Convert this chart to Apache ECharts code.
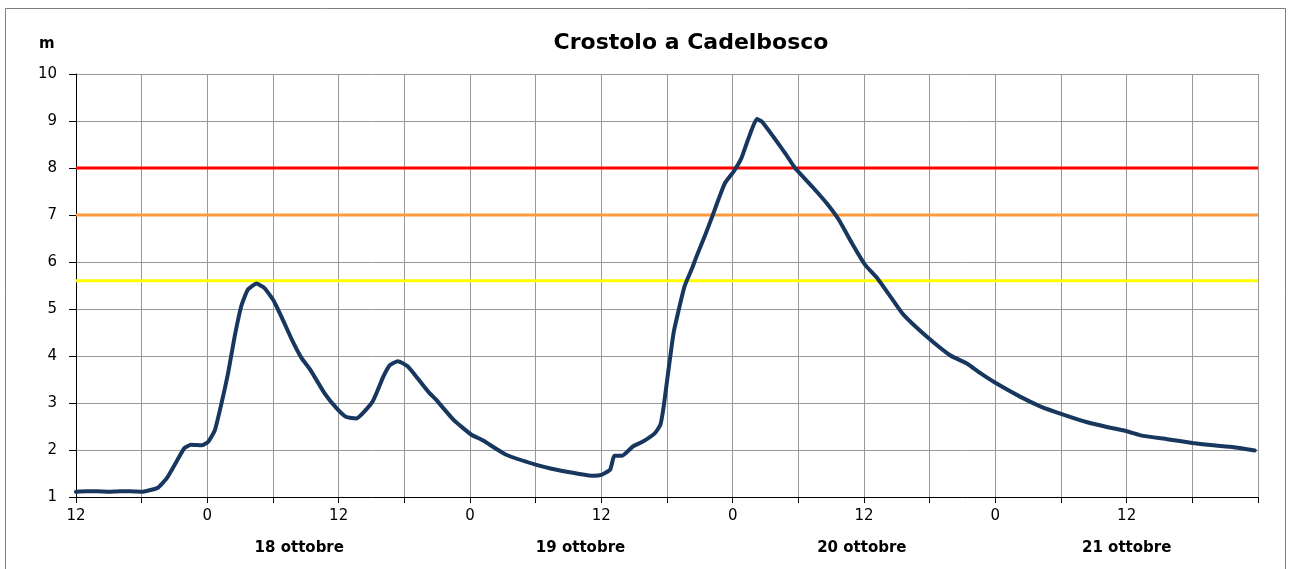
<!DOCTYPE html>
<html>
<head>
<meta charset="utf-8">
<title>Crostolo a Cadelbosco</title>
<script src="https://cdn.jsdelivr.net/npm/echarts@6/dist/echarts.min.js"></script>
<style>
  html, body { margin: 0; padding: 0; background: #fff; }
  #chart { width: 1290px; height: 569px; }
</style>
</head>
<body>
<div id="chart"></div>
<script>
// ore dall'inizio (17 ottobre ore 12)
const hours = [
  0, 1, 2, 3, 4, 5, 6, 7, 7.5, 8.3, 9.2, 9.9, 10.5, 11.5, 12.1, 12.7, 13.3, 13.9,
  14.5, 15.1, 15.7, 16.5, 17.2, 18, 18.9, 19.8, 20.6, 21.4, 22.7, 23.8, 24.7, 25.6,
  27.1, 28.1, 28.7, 29.4, 30.3, 31.3, 32.3, 32.9, 34.5, 36.1, 37.2, 39.3, 42, 43.9,
  46, 47.3, 48, 48.8, 49.2, 49.9, 50.9, 51.8, 52.9, 53.4, 53.7, 54.1, 54.6, 55,
  55.6, 56.3, 56.7, 57.5, 58.2, 58.7, 59.3, 60.1, 60.8, 61.4, 62.2, 62.65, 63.7,
  64.9, 65.7, 67.4, 68.7, 69.7, 70.9, 72.1, 73.2, 74.4, 75.6, 77.7, 79.9, 81.4,
  82.6, 84, 86.3, 88.1, 90, 92.4, 94.2, 96, 97.5, 99.7, 102, 103.9, 105.8, 107.7
];
// livello idrometrico (m)
const levels = [
  1.11, 1.12, 1.12, 1.11, 1.12, 1.12, 1.11, 1.16, 1.2, 1.4, 1.76, 2.04, 2.11, 2.1, 2.18, 2.43, 3.0, 3.64,
  4.42, 5.06, 5.41, 5.54, 5.45, 5.2, 4.77, 4.31, 3.96, 3.71, 3.21, 2.89, 2.7, 2.67,
  3.03, 3.57, 3.81, 3.89, 3.78, 3.5, 3.21, 3.07, 2.64, 2.33, 2.2, 1.9, 1.69, 1.58,
  1.49, 1.45, 1.47, 1.58, 1.88, 1.88, 2.08, 2.18, 2.36, 2.54, 2.93, 3.64, 4.49, 4.91,
  5.48, 5.87, 6.12, 6.58, 7.01, 7.33, 7.68, 7.93, 8.21, 8.6, 9.04, 8.99, 8.67,
  8.28, 8.0, 7.57, 7.22, 6.9, 6.4, 5.94, 5.66, 5.27, 4.88, 4.42, 4.01, 3.84,
  3.64, 3.43, 3.13, 2.93, 2.77, 2.59, 2.49, 2.4, 2.3, 2.23, 2.15, 2.1, 2.06, 1.99
];

// soglie
const thresholdLevels = [8, 7, 5.6];
const thresholdColors = ['#ff0000', '#ff9a3c', '#ffff00'];

const hourTicks = [0, 12, 24, 36, 48, 60, 72, 84, 96];
const hourTickLabels = ['12', '0', '12', '0', '12', '0', '12', '0', '12'];
const dateLabelHours = [20.4, 46.1, 71.8, 96];
const dateLabels = ['18 ottobre', '19 ottobre', '20 ottobre', '21 ottobre'];

const X_MIN = 0;
const X_MAX = 108;
const FONT = '"DejaVu Sans", "Liberation Sans", sans-serif';

const chart = echarts.init(document.getElementById('chart'), null, { renderer: 'canvas' });

const levelData = hours.map((h, i) => [h, levels[i]]);

const thresholdSeries = thresholdLevels.map((lv, i) => ({
  type: 'line',
  data: [[X_MIN, lv], [X_MAX, lv]],
  symbol: 'none',
  silent: true,
  lineStyle: { color: thresholdColors[i], width: 3 },
  z: 3
}));

function labelFor(values, labels, v) {
  const idx = values.findIndex(x => Math.abs(x - v) < 1e-6);
  return idx >= 0 ? labels[idx] : '';
}

const option = {
  animation: false,
  backgroundColor: '#fff',
  title: {
    text: 'Crostolo a Cadelbosco',
    left: 686,
    textAlign: 'center',
    top: 27,
    textStyle: { fontFamily: FONT, fontSize: 22, fontWeight: 'bold', color: '#000' }
  },
  graphic: [
    {
      type: 'rect',
      shape: { x: 5.5, y: 8.5, width: 1280, height: 580 },
      style: { fill: 'none', stroke: '#7f7f7f', lineWidth: 1 },
      silent: true
    },
    {
      type: 'text',
      left: 39,
      top: 37,
      style: { text: 'm', fontFamily: FONT, fontSize: 15, fontWeight: 'bold', fill: '#000' }
    }
  ],
  grid: { left: 76, right: 32, top: 74, bottom: 72 },
  xAxis: [
    {
      type: 'value',
      min: X_MIN,
      max: X_MAX,
      interval: 6,
      axisLine: { onZero: false, lineStyle: { color: '#000', width: 1 } },
      axisTick: { show: true, length: 6, lineStyle: { color: '#000' } },
      splitLine: { show: true, lineStyle: { color: '#999', width: 1 } },
      axisLabel: {
        customValues: hourTicks,
        formatter: v => labelFor(hourTicks, hourTickLabels, v),
        margin: 12,
        fontFamily: FONT,
        fontSize: 15,
        color: '#000'
      }
    },
    {
      type: 'value',
      min: X_MIN,
      max: X_MAX,
      position: 'bottom',
      axisLine: { show: false },
      axisTick: { show: false },
      splitLine: { show: false },
      axisLabel: {
        customValues: dateLabelHours,
        formatter: v => labelFor(dateLabelHours, dateLabels, v),
        margin: 44,
        fontFamily: FONT,
        fontSize: 15,
        fontWeight: 'bold',
        color: '#000'
      }
    }
  ],
  yAxis: {
    type: 'value',
    min: 1,
    max: 10,
    interval: 1,
    axisLine: { show: true, lineStyle: { color: '#000', width: 1 } },
    axisTick: { show: true, length: 7, lineStyle: { color: '#000' } },
    splitLine: { show: true, lineStyle: { color: '#999', width: 1 } },
    axisLabel: { margin: 19, fontFamily: FONT, fontSize: 15, color: '#000' }
  },
  series: [
    {
      name: 'livello',
      type: 'line',
      data: levelData,
      symbol: 'none',
      smooth: 0.15,
      lineStyle: { color: '#17375e', width: 4, cap: 'round', join: 'round' },
      z: 4
    }
  ].concat(thresholdSeries)
};

chart.setOption(option);
</script>
</body>
</html>
